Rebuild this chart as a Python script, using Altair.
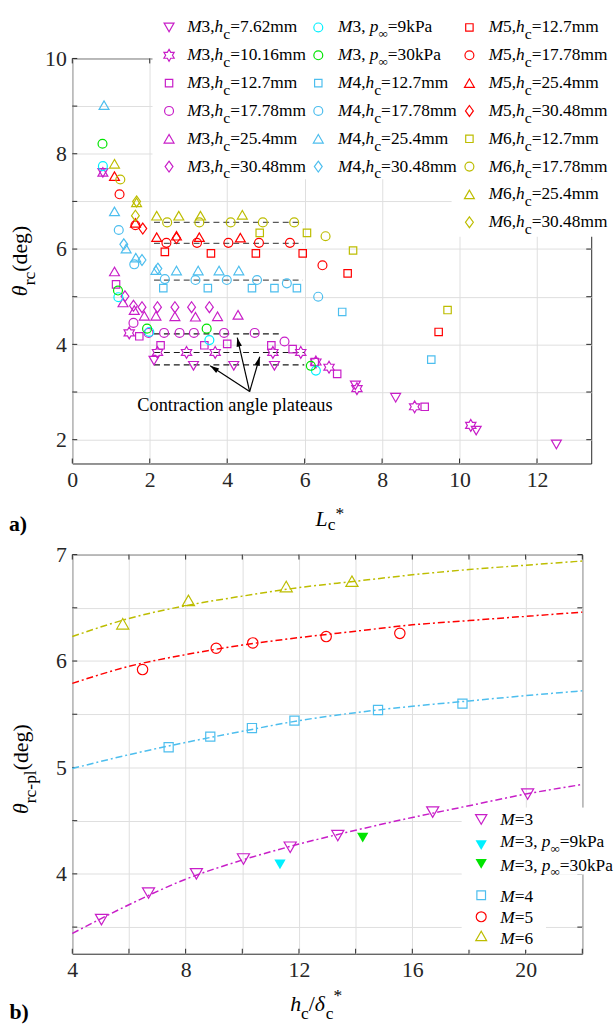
import math
import altair as alt
import pandas as pd

SERIF = "Liberation Serif"
MAG, CYAN, GREEN, BLUE, RED, OLIVE = "#C81EC8", "#00F0FF", "#00E400", "#4DBEEE", "#FF0000", "#BDBD00"

# ---------------- panel a) data : L_c* and theta_rc ----------------
m3_762_L = [0.79, 2.11, 3.13, 4.17, 5.22, 7.31, 8.35, 10.43, 12.50]
m3_762_t = [7.60, 3.66, 3.55, 3.55, 3.55, 3.14, 2.88, 2.19, 1.90]
m3_1016_L = [1.47, 2.20, 2.95, 3.69, 5.18, 5.90, 6.29, 6.63, 7.35, 8.84, 10.29]
m3_1016_t = [4.24, 3.83, 3.83, 3.83, 3.83, 3.83, 3.63, 3.52, 3.07, 2.69, 2.30]
m3_127_L = [1.13, 1.73, 2.28, 3.41, 4.00, 5.14, 5.69, 6.26, 6.84, 9.10]
m3_127_t = [5.26, 4.17, 3.98, 3.98, 4.01, 3.98, 3.90, 3.63, 3.38, 2.69]
m3_1778_L = [1.58, 1.97, 2.37, 2.77, 3.14, 3.92, 4.71, 5.48]
m3_1778_t = [4.45, 4.24, 4.24, 4.24, 4.24, 4.24, 4.24, 4.06]
m3_254_L = [0.79, 1.09, 1.31, 1.60, 1.86, 2.16, 2.65, 3.18, 3.75, 4.28]
m3_254_t = [7.62, 5.53, 4.88, 4.72, 4.60, 4.60, 4.59, 4.58, 4.59, 4.62]
m3_3048_L = [1.36, 1.58, 1.80, 2.20, 2.65, 3.08, 3.54]
m3_3048_t = [5.01, 4.81, 4.78, 4.78, 4.78, 4.78, 4.78]
m3_9kpa_L = [0.79, 1.19, 1.99, 3.54, 6.29]
m3_9kpa_t = [7.74, 4.99, 4.26, 4.09, 3.45]
m3_30kpa_L = [0.78, 1.18, 1.93, 3.47, 6.16]
m3_30kpa_t = [8.21, 5.13, 4.33, 4.33, 3.55]
m4_127_L = [2.35, 3.50, 4.64, 5.22, 5.80, 6.97, 9.27]
m4_127_t = [5.18, 5.18, 5.18, 5.18, 5.18, 4.68, 3.68]
m4_1778_L = [1.20, 1.60, 2.39, 3.18, 3.99, 4.77, 5.54, 6.35]
m4_1778_t = [6.40, 5.68, 5.37, 5.35, 5.35, 5.35, 5.28, 5.00]
m4_254_L = [0.82, 1.09, 1.39, 1.64, 2.16, 2.69, 3.25, 3.79, 4.30]
m4_254_t = [9.02, 6.79, 6.01, 5.82, 5.56, 5.55, 5.55, 5.55, 5.55]
m4_3048_L = [1.33, 1.80, 2.21]
m4_3048_t = [6.10, 5.77, 5.59]
m5_127_L = [2.39, 3.58, 4.74, 5.95, 7.11, 9.46]
m5_127_t = [5.94, 5.91, 5.91, 5.91, 5.49, 4.26]
m5_1778_L = [1.22, 1.63, 2.43, 3.22, 4.03, 4.82, 5.62, 6.46]
m5_1778_t = [7.15, 6.50, 6.13, 6.13, 6.13, 6.13, 6.13, 5.66]
m5_254_L = [1.09, 1.63, 2.18, 2.69, 3.28, 4.34]
m5_254_t = [7.53, 6.55, 6.25, 6.28, 6.25, 6.24]
m5_3048_L = [1.82, 2.69]
m5_3048_t = [6.43, 6.23]
m6_127_L = [4.84, 6.06, 7.25, 9.69]
m6_127_t = [6.34, 6.34, 5.97, 4.72]
m6_1778_L = [1.24, 2.45, 3.28, 4.09, 4.92, 5.73, 6.54]
m6_1778_t = [7.46, 6.56, 6.56, 6.56, 6.56, 6.56, 6.27]
m6_254_L = [1.09, 1.66, 2.18, 2.75, 3.31, 4.39]
m6_254_t = [7.79, 6.98, 6.70, 6.70, 6.70, 6.72]
m6_3048_L = [1.66, 1.63]
m6_3048_t = [7.00, 6.70]

# plateau guide lines
plat_t = [6.56, 6.12, 5.35, 4.22, 3.83, 3.57]
plat_L0 = [2.11, 2.11, 2.11, 2.11, 2.11, 2.11]
plat_L1 = [5.95, 5.95, 5.95, 5.37, 5.99, 5.99]
plat_dark = [False, False, False, True, True, True]

# annotation
note_text = "Contraction angle plateaus"
note_L, note_t = 4.20, 2.72
arrow_from_L, arrow_from_t = 4.58, 3.01
arrow_to_L = [3.56, 4.26, 4.84]
arrow_to_t = [3.55, 4.14, 3.74]

# ---------------- panel b) data : h_c/delta_c* and theta_rc-pl ----------------
b_m3_h = [5.03, 6.69, 8.38, 10.04, 11.69, 13.37, 16.72, 20.07]
b_m3_t = [3.57, 3.82, 4.00, 4.14, 4.25, 4.36, 4.58, 4.75]
b_m3_9kpa_h, b_m3_9kpa_t = [11.33], [4.09]
b_m3_30kpa_h, b_m3_30kpa_t = [14.25], [4.34]
b_m4_h = [7.40, 8.87, 10.34, 11.84, 14.79, 17.77]
b_m4_t = [5.19, 5.29, 5.37, 5.44, 5.54, 5.60]
b_m5_h = [6.48, 9.08, 10.37, 12.96, 15.56]
b_m5_t = [5.92, 6.12, 6.17, 6.23, 6.26]
b_m6_h = [5.78, 8.10, 11.55, 13.87]
b_m6_t = [6.35, 6.57, 6.70, 6.75]

fit_h = [4, 6, 8, 10, 12, 14, 16, 18, 20, 22]
fit_m3 = [3.44, 3.71, 3.95, 4.13, 4.28, 4.41, 4.53, 4.64, 4.75, 4.84]
fit_m4 = [4.99, 5.12, 5.235, 5.34, 5.44, 5.515, 5.575, 5.625, 5.675, 5.72]
fit_m5 = [5.79, 5.95, 6.06, 6.15, 6.22, 6.28, 6.34, 6.38, 6.42, 6.46]
fit_m6 = [6.23, 6.40, 6.52, 6.61, 6.69, 6.75, 6.81, 6.86, 6.90, 6.94]

# ---------------- styles ----------------
HEX = ("M0,-1L0.2887,-0.5L0.866,-0.5L0.577,0L0.866,0.5L0.2887,0.5L0,1L-0.2887,0.5"
       "L-0.866,0.5L-0.577,0L-0.866,-0.5L-0.2887,-0.5Z")
DIA = "M0,-1L0.72,0L0,1L-0.72,0Z"
HEAD = "M0,0L-0.55,1.8L0.55,1.8Z"
SHAPE = {"tdn": "triangle-down", "hex": HEX, "sq": "square", "ci": "circle", "tup": "triangle-up", "dia": DIA}
SIZE_A = {"tdn": 100, "hex": 144, "sq": 56, "ci": 81, "tup": 100, "dia": 121}
SIZE_B = {"tdn": 150, "sq": 85, "ci": 110, "tup": 150}

W1, H1 = 524, 409
W2, H2 = 515, 403
XD1, YD1 = [0, 13.4], [1.5, 10]
XD2, YD2 = [4, 22], [3.25, 7]
xs1 = alt.Scale(domain=XD1, nice=False, zero=False)
ys1 = alt.Scale(domain=YD1, nice=False, zero=False)
xs2 = alt.Scale(domain=XD2, nice=False, zero=False)
ys2 = alt.Scale(domain=YD2, nice=False, zero=False)

AXC = dict(grid=True, title=None, ticks=False, domain=False, labelFlush=False, labelOverlap=False, format=".0f",
           labelFont=SERIF, labelFontSize=22, labelColor="#262626")
ax_x1 = alt.Axis(values=list(range(0, 13, 2)), labelPadding=6, **AXC)
ax_y1 = alt.Axis(values=list(range(2, 11)), labelPadding=6,
                 labelExpr="datum.value % 2 == 0 ? datum.label : ''", **AXC)
ax_x2 = alt.Axis(values=list(range(4, 23, 2)), labelPadding=6,
                 labelExpr="datum.value % 4 == 0 ? datum.label : ''", **AXC)
ax_y2 = alt.Axis(values=[v / 2 for v in range(7, 15)], labelPadding=6,
                 labelExpr="datum.value % 1 == 0 ? datum.label : ''", **AXC)


def XA(f):
    return alt.X(f + ":Q", scale=xs1, axis=ax_x1)


def YA(f):
    return alt.Y(f + ":Q", scale=ys1, axis=ax_y1)


def XB(f):
    return alt.X(f + ":Q", scale=xs2, axis=ax_x2)


def YB(f):
    return alt.Y(f + ":Q", scale=ys2, axis=ax_y2)


# ---------------- text run helper ----------------
WN = {".": .25, ",": .25, " ": .25, "=": .564, "m": .778, "k": .5, "P": .556, "a": .444, "c": .444,
      "r": .333, "l": .278, "p": .5, "(": .333, ")": .333, "d": .5, "e": .444, "g": .5, "-": .333,
      "*": .5, "/": .278, "\u221e": .713, "b": .5}
WI = {"M": .833, "h": .5, "p": .5, "L": .556, "\u03b8": .5, "\u03b4": .5}


def twidth(s, italic):
    tab = WI if italic else WN
    return sum(tab.get(ch, .5) for ch in s)


def runs_rows(runs, x0, y0, fs, ang=0):
    rows, pos = [], 0.0
    for txt, it, dy, sc, adv in runs:
        f = fs * sc
        if ang == 0:
            px, py = x0 + pos, y0 + dy
        else:
            px, py = x0 + dy, y0 - pos
        rows.append({"px": px, "py": py, "t": txt, "it": it, "fs": f, "ang": ang})
        if adv:
            pos += twidth(txt, it) * f
    return rows


def text_layers(rows, bold=False):
    out = []
    df = pd.DataFrame(rows)
    for it in (False, True):
        sub = df[df["it"] == it]
        if len(sub) == 0:
            continue
        out.append(alt.Chart(sub).mark_text(
            font=SERIF, align="left", baseline="alphabetic", color="black",
            fontStyle="italic" if it else "normal", fontWeight="bold" if bold else "normal"
        ).encode(
            x=alt.X("px:Q", scale=None, axis=None), y=alt.Y("py:Q", scale=None, axis=None),
            text="t:N", size=alt.Size("fs:Q", scale=None, legend=None),
            angle=alt.Angle("ang:Q", scale=None, legend=None)))
    return out


def hc_runs(m, val):
    return [("M", True, 0, 1, True), (m + ",", False, 0, 1, True), ("h", True, 0, 1, True),
            ("c", False, 7, 0.9, True), ("=" + val + "mm", False, 0, 1, True)]


def pinf_runs(pre, val):
    return [("M", True, 0, 1, True), (pre, False, 0, 1, True), ("p", True, 0, 1, True),
            ("\u221e", False, 6, 0.75, True), ("=" + val + "kPa", False, 0, 1, True)]


def tick_layers(xvals, yvals, X, Y, W, H):
    tx = pd.DataFrame({"v": xvals})
    ty = pd.DataFrame({"v": yvals})
    base = dict(color="#262626", strokeWidth=1)
    lx = alt.Chart(tx).mark_rule(**base)
    ly = alt.Chart(ty).mark_rule(**base)
    return [lx.encode(x=X("v"), y=alt.value(H), y2=alt.value(H - 5)),
            lx.encode(x=X("v"), y=alt.value(0), y2=alt.value(5)),
            ly.encode(y=Y("v"), x=alt.value(0), x2=alt.value(5)),
            ly.encode(y=Y("v"), x=alt.value(W - 5), x2=alt.value(W))]


def rect_layer(x0, x1, y0, y1, **kw):
    df = pd.DataFrame({"x0": x0, "x1": x1, "y0": y0, "y1": y1})
    return alt.Chart(df).mark_rect(**kw).encode(
        x=alt.X("x0:Q", scale=None, axis=None), x2="x1:Q",
        y=alt.Y("y0:Q", scale=None, axis=None), y2="y1:Q")


def symbol_layer(df, filled=False):
    return alt.Chart(df).mark_point(filled=filled, strokeWidth=1.2, opacity=1).encode(
        x=alt.X("px:Q", scale=None, axis=None), y=alt.Y("py:Q", scale=None, axis=None),
        shape=alt.Shape("shape:N", scale=None, legend=None), color=alt.Color("color:N", scale=None, legend=None),
        size=alt.Size("size:Q", scale=None, legend=None))


# ================= panel a =================
series_a = [
    (m3_762_L, m3_762_t, "tdn", MAG), (m3_1016_L, m3_1016_t, "hex", MAG),
    (m3_127_L, m3_127_t, "sq", MAG), (m3_1778_L, m3_1778_t, "ci", MAG),
    (m3_254_L, m3_254_t, "tup", MAG), (m3_3048_L, m3_3048_t, "dia", MAG),
    (m3_9kpa_L, m3_9kpa_t, "ci", CYAN), (m3_30kpa_L, m3_30kpa_t, "ci", GREEN),
    (m4_127_L, m4_127_t, "sq", BLUE), (m4_1778_L, m4_1778_t, "ci", BLUE),
    (m4_254_L, m4_254_t, "tup", BLUE), (m4_3048_L, m4_3048_t, "dia", BLUE),
    (m5_127_L, m5_127_t, "sq", RED), (m5_1778_L, m5_1778_t, "ci", RED),
    (m5_254_L, m5_254_t, "tup", RED), (m5_3048_L, m5_3048_t, "dia", RED),
    (m6_127_L, m6_127_t, "sq", OLIVE), (m6_1778_L, m6_1778_t, "ci", OLIVE),
    (m6_254_L, m6_254_t, "tup", OLIVE), (m6_3048_L, m6_3048_t, "dia", OLIVE),
]
rows = []
for Ls, ts, shp, col in series_a:
    for L, t in zip(Ls, ts):
        rows.append({"L": L, "t": t, "shape": SHAPE[shp], "color": col, "size": SIZE_A[shp]})
pts_a = pd.DataFrame(rows)

layers_a = tick_layers(list(range(0, 14, 2)), list(range(2, 11)), XA, YA, W1, H1)

# legend background (white) and page-origin anchor
layers_a.append(rect_layer([81, 383], [541.7, 541.7], [-53, 122], [122, 180], color="white"))
layers_a.append(rect_layer([-72.3], [541.7], [-53], [-51], opacity=0))

plat = pd.DataFrame({"L0": plat_L0, "L1": plat_L1, "t": plat_t, "dark": plat_dark})
for dark, col in ((False, "#5a5a5a"), (True, "#1a1a1a")):
    layers_a.append(alt.Chart(plat[plat["dark"] == dark]).mark_rule(
        color=col, strokeWidth=1.2, strokeDash=[6, 4]).encode(x=XA("L0"), x2="L1:Q", y=YA("t")))

# arrows
pxL = W1 / (XD1[1] - XD1[0])
pyT = H1 / (YD1[1] - YD1[0])
arr = pd.DataFrame({"L0": [arrow_from_L] * 3, "t0": [arrow_from_t] * 3, "L": arrow_to_L, "t": arrow_to_t})
arr["ang"] = [(math.degrees(math.atan2((a - arrow_from_L) * pxL, (b - arrow_from_t) * pyT)) + 360) % 360
              for a, b in zip(arrow_to_L, arrow_to_t)]
layers_a.append(alt.Chart(arr).mark_rule(color="black", strokeWidth=1.2).encode(
    x=XA("L0"), y=YA("t0"), x2="L:Q", y2="t:Q"))
layers_a.append(alt.Chart(arr).mark_point(shape=HEAD, filled=True, color="black", size=100, opacity=1).encode(
    x=XA("L"), y=YA("t"), angle=alt.Angle("ang:Q", scale=None, legend=None)))

layers_a.append(alt.Chart(pts_a).mark_point(filled=False, strokeWidth=1.2, opacity=1).encode(
    x=XA("L"), y=YA("t"), shape=alt.Shape("shape:N", scale=None, legend=None),
    color=alt.Color("color:N", scale=None, legend=None), size=alt.Size("size:Q", scale=None, legend=None)))

layers_a.append(alt.Chart(pd.DataFrame({"L": [note_L], "t": [note_t], "s": [note_text]})).mark_text(
    font=SERIF, fontSize=18.5, color="black", align="center", baseline="middle").encode(
    x=XA("L"), y=YA("t"), text="s:N"))

# legend of panel a
FSL = 17.5
col_x = [(97.7, 116.0), (248.4, 268.4), (401.0, 420.4)]
leg_entries = [
    [(hc_runs("3", v), s, MAG) for v, s in
     zip(["7.62", "10.16", "12.7", "17.78", "25.4", "30.48"], ["tdn", "hex", "sq", "ci", "tup", "dia"])],
    [(pinf_runs("3, ", "9"), "ci", CYAN), (pinf_runs("3, ", "30"), "ci", GREEN)] +
    [(hc_runs("4", v), s, BLUE) for v, s in zip(["12.7", "17.78", "25.4", "30.48"], ["sq", "ci", "tup", "dia"])],
    [(hc_runs("5", v), s, RED) for v, s in zip(["12.7", "17.78", "25.4", "30.48"], ["sq", "ci", "tup", "dia"])] +
    [(hc_runs("6", v), s, OLIVE) for v, s in zip(["12.7", "17.78", "25.4", "30.48"], ["sq", "ci", "tup", "dia"])],
]
sym_rows, txt_rows = [], []
for (mx, tx), entries in zip(col_x, leg_entries):
    for i, (runs, shp, col) in enumerate(entries):
        base = -26.3 + 28.1 * i
        sym_rows.append({"px": mx, "py": base - 5, "shape": SHAPE[shp], "color": col, "size": SIZE_A[shp]})
        txt_rows += runs_rows(runs, tx, base, FSL)

# axis titles
txt_rows += runs_rows([("L", True, 0, 1, True), ("c", False, 4, 0.8, True), ("*", False, -7, 0.8, True)],
                      245.7, 472, 22)
txt_rows += runs_rows([("\u03b8", True, 0, 1, True), ("rc", False, 8, 0.8, True), ("(deg)", False, 0, 1, True)],
                      -45.3, 240, 22, ang=270)

layers_a.append(symbol_layer(pd.DataFrame(sym_rows)))
layers_a += text_layers(txt_rows)
layers_a += text_layers(runs_rows([("a)", False, 0, 1, True)], -64, 477, 22), bold=True)

top = alt.layer(*layers_a).properties(width=W1, height=H1)

# ================= panel b =================
layers_b = tick_layers(list(range(4, 23, 2)), [v / 2 for v in range(7, 15)], XB, YB, W2, H2)

fits = []
for vals, col in ((fit_m3, MAG), (fit_m4, BLUE), (fit_m5, RED), (fit_m6, OLIVE)):
    for h, t in zip(fit_h, vals):
        fits.append({"h": h, "t": t, "color": col})
fits = pd.DataFrame(fits)

# legend white background
leg_rect = ([393.3, 393.3], [542.3, 478.3], [255.7, 322.7], [322.7, 398.7])
layers_b.append(rect_layer(*leg_rect, color="white"))

layers_b.append(alt.Chart(fits).mark_line(strokeWidth=1.5, strokeDash=[7, 3, 2, 3], interpolate="monotone").encode(
    x=XB("h"), y=YB("t"), color=alt.Color("color:N", scale=None, legend=None), detail="color:N"))

rows = []
for hs, ts, shp, col in ((b_m3_h, b_m3_t, "tdn", MAG), (b_m4_h, b_m4_t, "sq", BLUE),
                         (b_m5_h, b_m5_t, "ci", RED), (b_m6_h, b_m6_t, "tup", OLIVE)):
    for h, t in zip(hs, ts):
        rows.append({"h": h, "t": t, "shape": SHAPE[shp], "color": col, "size": SIZE_B[shp]})
pts_b = pd.DataFrame(rows)
rows = []
for hs, ts, col in ((b_m3_9kpa_h, b_m3_9kpa_t, CYAN), (b_m3_30kpa_h, b_m3_30kpa_t, GREEN)):
    for h, t in zip(hs, ts):
        rows.append({"h": h, "t": t, "color": col})
fill_b = pd.DataFrame(rows)

layers_b.append(alt.Chart(pts_b).mark_point(filled=False, strokeWidth=1.2, opacity=1).encode(
    x=XB("h"), y=YB("t"), shape=alt.Shape("shape:N", scale=None, legend=None),
    color=alt.Color("color:N", scale=None, legend=None), size=alt.Size("size:Q", scale=None, legend=None)))
layers_b.append(alt.Chart(fill_b).mark_point(filled=True, shape="triangle-down", size=130, opacity=1).encode(
    x=XB("h"), y=YB("t"), color=alt.Color("color:N", scale=None, legend=None)))

layers_b.append(rect_layer(*leg_rect, color="white"))

# legend of panel b
leg_b = [
    ([("M", True, 0, 1, True), ("=3", False, 0, 1, True)], "tdn", MAG, False),
    ([("M", True, 0, 1, True), ("=3, ", False, 0, 1, True), ("p", True, 0, 1, True),
      ("\u221e", False, 6, 0.75, True), ("=9kPa", False, 0, 1, True)], "tdn", CYAN, True),
    ([("M", True, 0, 1, True), ("=3, ", False, 0, 1, True), ("p", True, 0, 1, True),
      ("\u221e", False, 6, 0.75, True), ("=30kPa", False, 0, 1, True)], "tdn", GREEN, True),
    ([("M", True, 0, 1, True), ("=4", False, 0, 1, True)], "sq", BLUE, False),
    ([("M", True, 0, 1, True), ("=5", False, 0, 1, True)], "ci", RED, False),
    ([("M", True, 0, 1, True), ("=6", False, 0, 1, True)], "tup", OLIVE, False),
]
base_b = [273.2, 295.0, 319.0, 350.7, 372.4, 393.4]
sym_b = [267.4, 293.4, 312.4, 344.0, 365.7, 385.0]
sym_rows, txt_rows = [], []
for (runs, shp, col, filled), bl, sy in zip(leg_b, base_b, sym_b):
    sym_rows.append({"px": 412.9, "py": sy, "shape": SHAPE[shp], "color": col, "filled": filled,
                     "size": 130 if shp == "tdn" else SIZE_A[shp] + 20})
    txt_rows += runs_rows(runs, 432.2, bl, FSL)
sdf = pd.DataFrame(sym_rows)
layers_b.append(symbol_layer(sdf[~sdf["filled"]], filled=False))
layers_b.append(symbol_layer(sdf[sdf["filled"]], filled=True))

txt_rows += runs_rows([("h", True, 0, 1, True), ("c", False, 8, 0.8, True), ("/", False, 0, 1, True),
                       ("\u03b4", True, 0, 1, True), ("c", False, 8, 0.8, True), ("*", False, -10, 0.8, True)],
                      220, 460.7, 22)
txt_rows += runs_rows([("\u03b8", True, 0, 1, True), ("rc-pl", False, 8, 0.8, True), ("(deg)", False, 0, 1, True)],
                      -44.7, 262, 22, ang=270)
layers_b += text_layers(txt_rows)
layers_b += text_layers(runs_rows([("b)", False, 0, 1, True)], -63.4, 469.0, 22), bold=True)

bot = alt.layer(*layers_b).properties(width=W2, height=H2)

chart = alt.vconcat(top, bot, spacing=92, bounds="flush").properties(
    padding={"left": 0, "top": 0, "right": 0, "bottom": 0}
).configure_view(stroke="#262626", strokeWidth=1).configure_axis(
    labelFont=SERIF, labelFontSize=22, labelColor="#262626", gridColor="#DFDFDF", gridWidth=1, gridOpacity=1)

chart.save("out.html", embed_options={"renderer": "svg", "actions": False})
